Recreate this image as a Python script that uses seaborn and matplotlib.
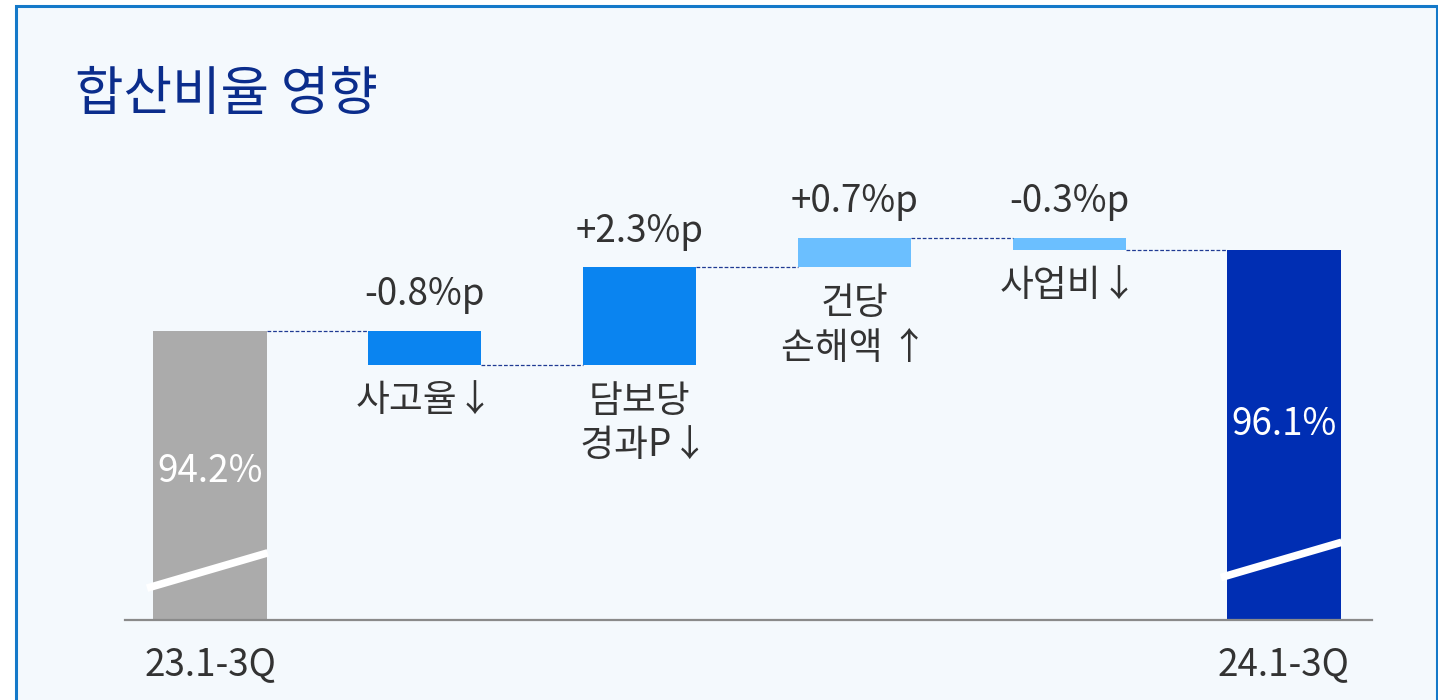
import matplotlib
matplotlib.use("Agg")
import matplotlib.pyplot as plt
from matplotlib.patches import Rectangle
import pandas as pd
import seaborn as sns

sns.set_theme(style="white")
plt.rcParams["font.family"] = ["Noto Sans CJK KR", "DejaVu Sans"]

# ---- data -----------------------------------------------------------------
TITLE = "합산비율 영향"
categories = ["23.1-3Q", "사고율↓", "담보당\n 경과P↓", "건당\n손해액 ↑", "사업비↓", "24.1-3Q"]
start_value = 94.2
deltas = [-0.8, 2.3, 0.7, -0.3]
end_value = 96.1
delta_labels = ["-0.8%p", "+2.3%p", "+0.7%p", "-0.3%p"]
total_labels = ["94.2%", "96.1%"]
tick_labels = ["23.1-3Q", "", "", "", "", "24.1-3Q"]

# ---- style ----------------------------------------------------------------
BG = "#f4f9fd"
FRAME = "#1479c9"
TXT = "#333333"
colors = ["#ababab", "#0a84f0", "#0a84f0", "#6bbfff", "#6bbfff", "#002eb3"]
BAR_W = 0.527
Y_FLOOR = 87.4

# waterfall geometry
levels = [start_value]
for d in deltas:
    levels.append(round(levels[-1] + d, 2))
bottoms = [Y_FLOOR]
heights = [start_value - Y_FLOOR]
for i, d in enumerate(deltas):
    bottoms.append(min(levels[i], levels[i + 1]))
    heights.append(abs(d))
bottoms.append(Y_FLOOR)
heights.append(end_value - Y_FLOOR)
df = pd.DataFrame({"category": categories, "height": heights})

fig = plt.figure(figsize=(14.38, 7.0), dpi=100, facecolor="white")
fig.patches.append(Rectangle((16 / 1438, -0.05), 1420.5 / 1438, 1.05 - 6 / 700,
                             transform=fig.transFigure, facecolor=BG,
                             edgecolor=FRAME, lw=2.2, zorder=-1))
ax = fig.add_axes([125 / 1438, 80 / 700, 1247 / 1438, 470 / 700])
ax.set_facecolor("none")

sns.barplot(data=df, x="category", y="height", order=categories,
            bottom=bottoms, width=BAR_W, errorbar=None, color=colors[0],
            linewidth=0, ax=ax)
for patch, c in zip(ax.patches, colors):
    patch.set_facecolor(c)
    patch.set_edgecolor("none")

# dashed connectors between consecutive bars
conn = levels + [end_value]
for i in range(5):
    ax.hlines(conn[i], i + BAR_W / 2, i + 1 - BAR_W / 2, colors="#1f3a93",
              linestyles=(0, (3, 1.5)), lw=0.9, zorder=1)

# delta labels above, category labels below
for i, lab in enumerate(delta_labels, start=1):
    top = bottoms[i] + heights[i]
    ax.annotate(lab, (i, top), xytext=(0, 12), textcoords="offset points",
                ha="center", va="bottom", fontsize=26.5, color=TXT)
    ax.annotate(categories[i], (i, bottoms[i]), xytext=(0, -12),
                textcoords="offset points", ha="center", va="top",
                fontsize=26.5, color=TXT, linespacing=1.2, multialignment="center")

# totals inside bars
ax.text(0, 90.9, total_labels[0], ha="center", va="center", fontsize=26.5, color="white")
ax.text(5, 92.0, total_labels[1], ha="center", va="center", fontsize=26.5, color="white")

# axis-break marks
for x0, y0 in [(0, 88.15), (5, 88.4)]:
    ax.plot([x0 - BAR_W / 2 - 0.03, x0 + BAR_W / 2 + 0.005],
            [y0, y0 + 0.83], color="white", lw=5.5,
            solid_capstyle="butt", zorder=3)

ax.set_xlim(-0.396, 5.41)
ax.set_ylim(Y_FLOOR, 98.46)
ax.set_xticks(range(6))
ax.set_xticklabels(tick_labels, fontsize=26.5, color=TXT)
ax.set_yticks([])
ax.set_xlabel("")
ax.set_ylabel("")
ax.tick_params(axis="x", length=0, pad=18)
for side in ("top", "left", "right"):
    ax.spines[side].set_visible(False)
ax.spines["bottom"].set_color("#8a8a8a")
ax.spines["bottom"].set_linewidth(1.6)

fig.text(75 / 1438, 1 - 95 / 700, TITLE, ha="left", va="center",
         fontsize=38, color="#0b2d8c")

fig.savefig("out.png", dpi=100)
